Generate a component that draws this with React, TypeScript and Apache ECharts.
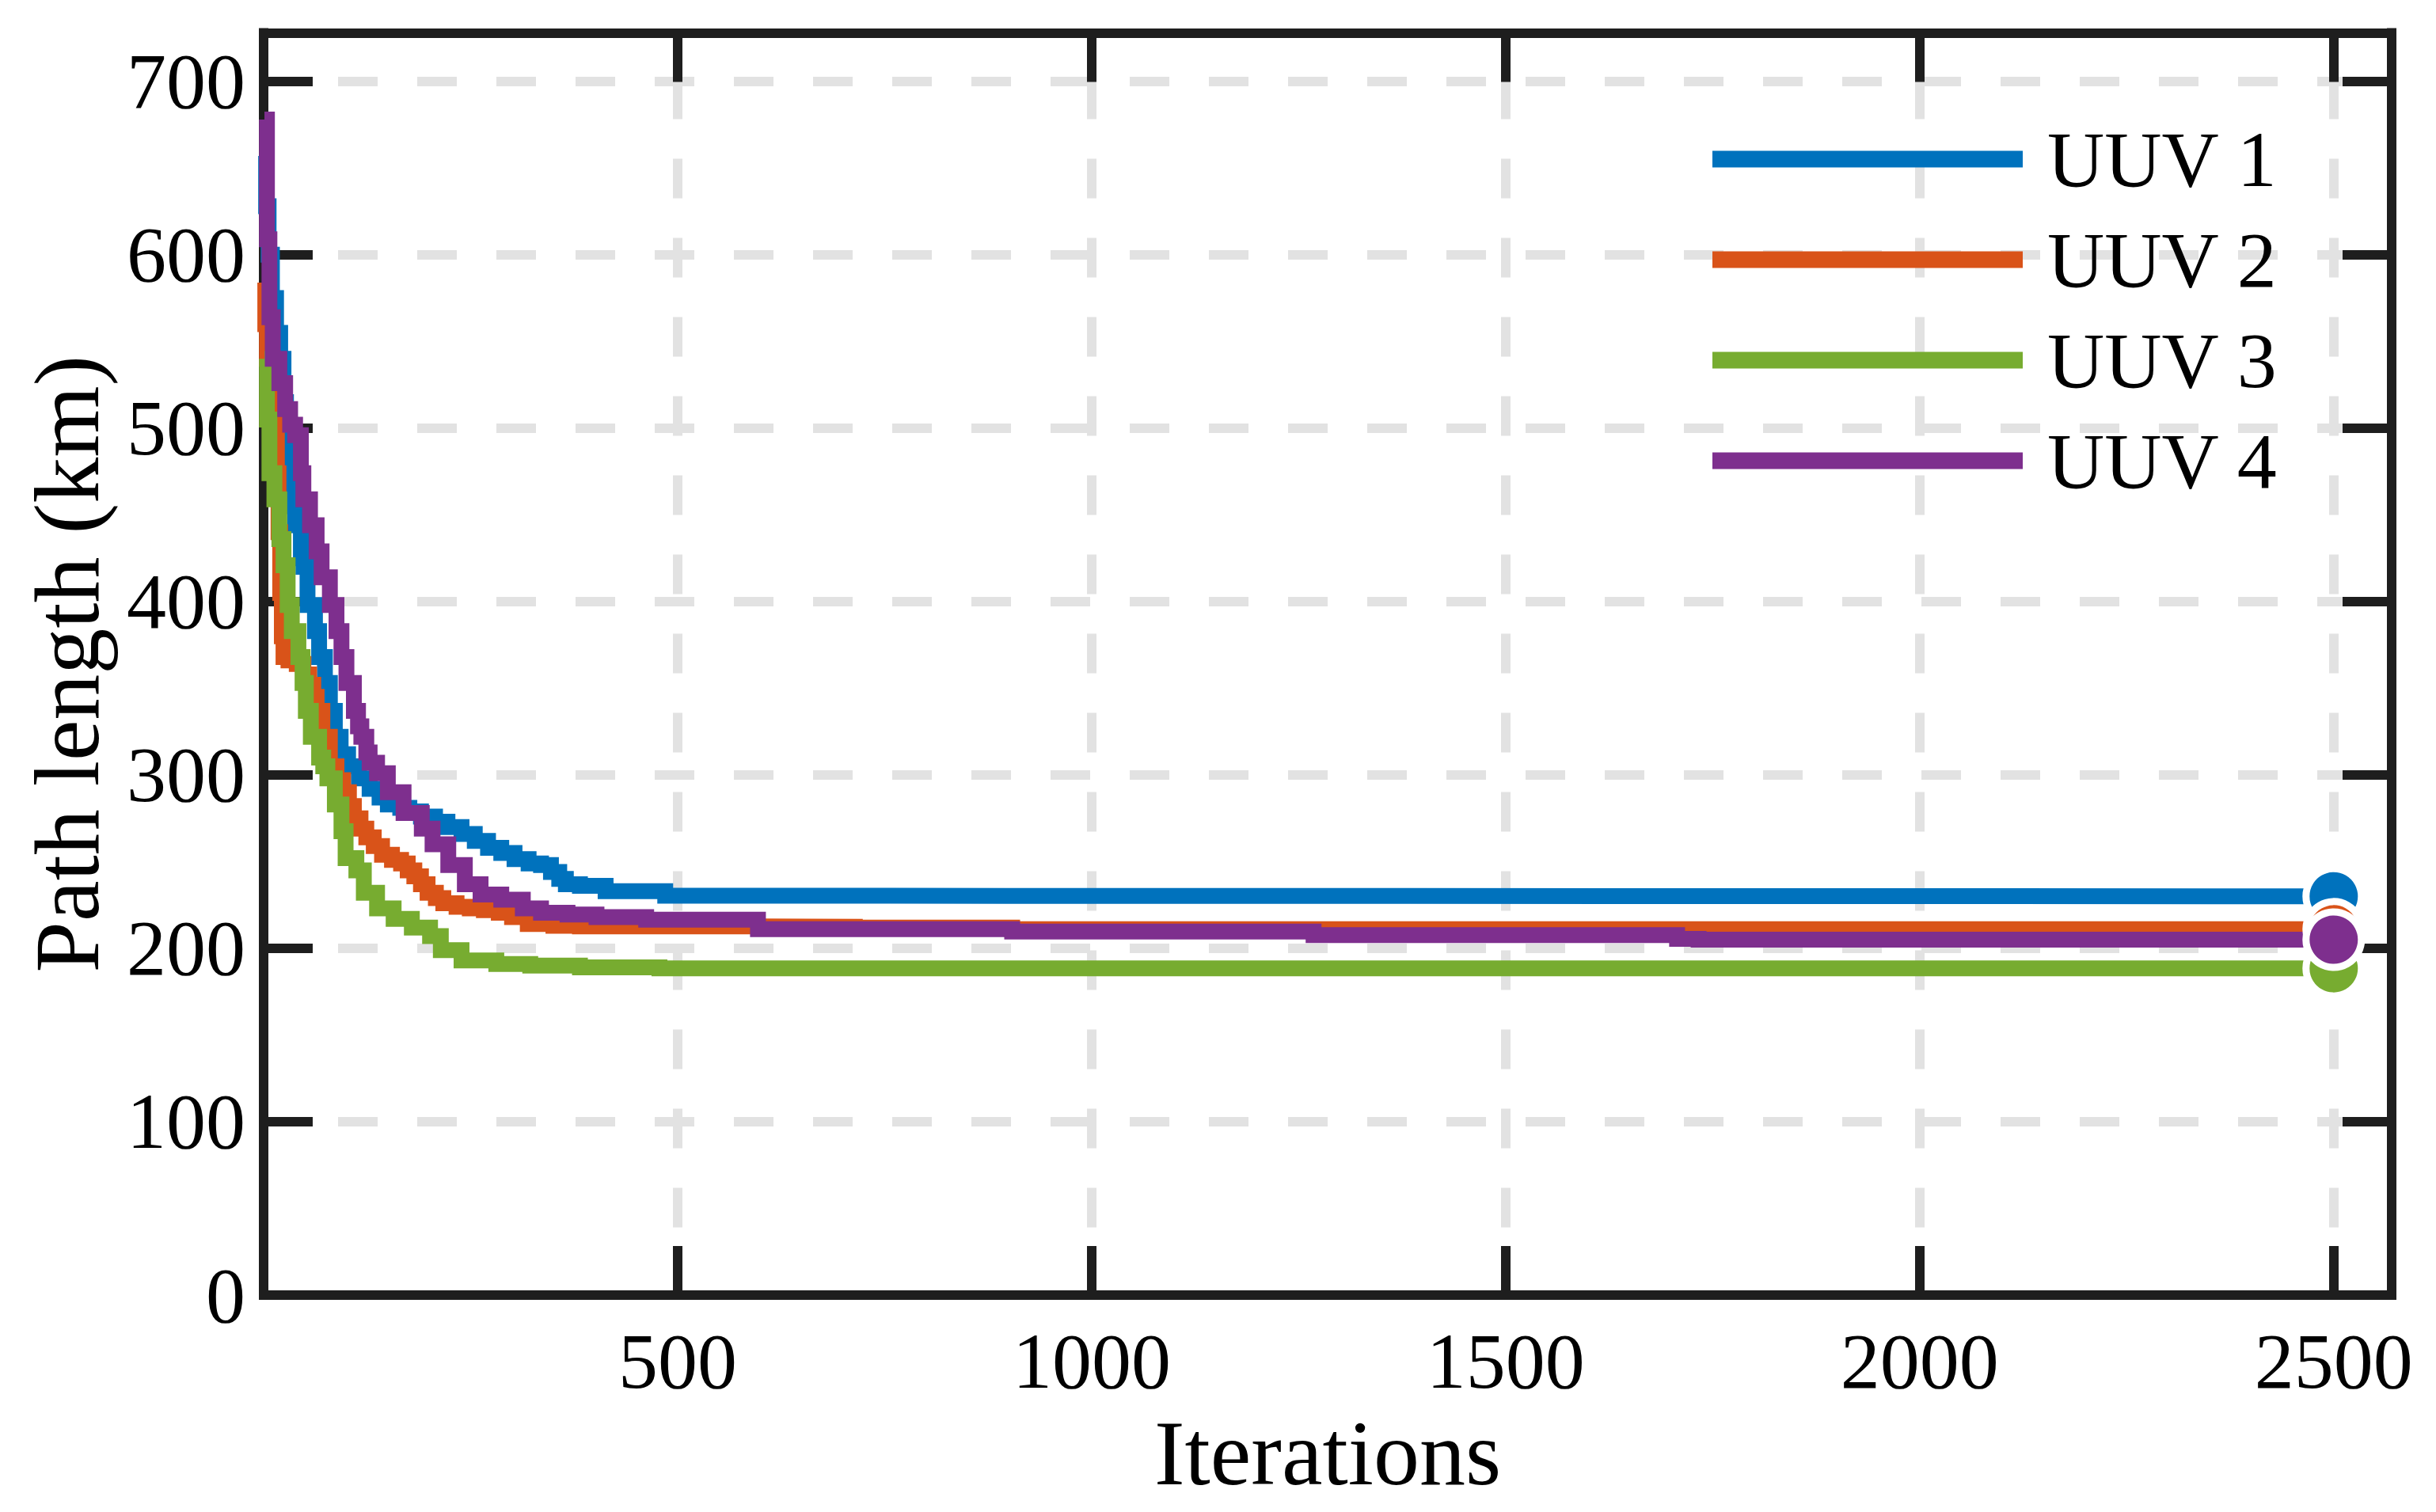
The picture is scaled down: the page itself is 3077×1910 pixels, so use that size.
import React, { useEffect, useRef } from "react";
import * as echarts from "echarts";

const SERIES_NAMES = ["UUV 1", "UUV 2", "UUV 3", "UUV 4"];
const COLORS = ["#0072BD", "#D95319", "#77AC30", "#7E2F8E"];

const X_MIN = 0;
const X_MAX = 2570;
const X_INTERVAL = 500;
const Y_MIN = 0;
const Y_MAX = 728;
const Y_INTERVAL = 100;

const X_TITLE = "Iterations";
const Y_TITLE = "Path length (km)";

// [iteration, best path length (km)]
const UUV1: [number, number][] = [
  [1, 657], [3, 628], [6, 600], [10, 575], [15, 555], [20, 540], [24, 515], [27, 505],
  [29, 470], [33, 455], [38, 444], [45, 425], [48, 420], [53, 398], [62, 383], [67, 368],
  [74, 353], [80, 337], [86, 322], [93, 312], [102, 305], [115, 298], [128, 292], [140, 287],
  [150, 283], [165, 281], [176, 279], [190, 276], [207, 273], [222, 270], [239, 266],
  [255, 262], [271, 258], [287, 255], [303, 251.5], [320, 249], [335, 248], [347, 244],
  [357, 240], [365, 237], [382, 236], [413, 233], [485, 230.3], [757, 230], [2500, 230],
];

const UUV2: [number, number][] = [
  [1, 584], [2, 560], [4, 540], [8, 520], [12, 505], [16, 474], [18, 440], [20, 405],
  [22, 380], [24, 368], [30, 366], [40, 364], [48, 358], [55, 352], [60, 345], [64, 337],
  [71, 322], [80, 305], [88, 297], [96, 290], [103, 282], [109, 275], [117, 269], [124, 264],
  [133, 259], [143, 254], [155, 251], [166, 249], [174, 245], [182, 241.5], [190, 237],
  [198, 232], [208, 229], [217, 226], [233, 224], [249, 223], [266, 222], [284, 220.5],
  [300, 218], [319, 214], [350, 213], [382, 212.6], [597, 212.4], [714, 212], [904, 211],
  [2500, 211],
];

const UUV3: [number, number][] = [
  [1, 540], [4, 505], [7, 474], [13, 459], [19, 436], [24, 421], [29, 398], [34, 383],
  [42, 368], [47, 353], [51, 337], [57, 322], [67, 310], [72, 305], [77, 298], [86, 283],
  [94, 267.5], [99, 252], [112, 245], [121, 232], [137, 223], [157, 217], [179, 212],
  [201, 207], [214, 199], [239, 193], [281, 191], [322, 190], [382, 189], [478, 188.5],
  [2500, 188.5],
];

const UUV4: [number, number][] = [
  [1, 678], [4, 609], [7, 564], [11, 540], [19, 526], [26, 511], [32, 502], [38, 496],
  [45, 474], [48, 459], [56, 444], [64, 429], [70, 414], [80, 398], [88, 383], [94, 368],
  [100, 353], [109, 337], [114, 328], [118, 322], [124, 313], [128, 307], [137, 301],
  [150, 290], [169, 278], [191, 269], [204, 260], [223, 248], [243, 237], [262, 231],
  [287, 228], [313, 223], [335, 220.5], [367, 219.5], [402, 218], [462, 216.5], [597, 211],
  [904, 209.7], [1268, 207.6], [1707, 205.5], [1733, 205], [2500, 205],
];

const SERIES_DATA = [UUV1, UUV2, UUV3, UUV4];

const FONT = "'Liberation Serif', 'Times New Roman', serif";
const FRAME = "#1e1e1e";
const GRID_GRAY = "#e2e2e2";

const plain = (v: number) => String(v);

export default function App() {
  const ref = useRef<HTMLDivElement | null>(null);

  useEffect(() => {
    document.body.style.margin = "0";
    document.body.style.overflow = "hidden";
    if (!ref.current) return;
    const chart = echarts.init(ref.current, undefined, { renderer: "svg" });

    const axisCommon = {
      type: "value" as const,
      axisLine: { show: true, onZero: false, lineStyle: { color: FRAME, width: 12, cap: "square" } },
      axisTick: { show: true, inside: true, length: 62, lineStyle: { color: FRAME, width: 12 } },
    };

    const lineSeries = SERIES_DATA.map((d, i) => ({
      name: SERIES_NAMES[i],
      type: "line",
      data: d,
      step: "end",
      symbol: "none",
      showSymbol: false,
      clip: false,
      color: COLORS[i],
      lineStyle: { color: COLORS[i], width: 20, join: "miter", cap: "butt" },
      z: 3,
    }));

    const endMarkers = {
      name: "end",
      type: "scatter",
      symbol: "circle",
      symbolSize: 70,
      clip: false,
      z: 4,
      itemStyle: { borderColor: "#ffffff", borderWidth: 9, opacity: 1 },
      data: SERIES_DATA.map((d, i) => ({
        value: d[d.length - 1],
        itemStyle: { color: COLORS[i] },
      })),
    };

    chart.setOption({
      animation: false,
      backgroundColor: "#ffffff",
      grid: { left: 333, right: 56, top: 41.5, bottom: 274, containLabel: false },
      legend: {
        data: SERIES_NAMES,
        orient: "vertical",
        left: 2163,
        top: 151,
        padding: 0,
        itemGap: 27,
        itemWidth: 392,
        itemHeight: 21,
        icon: "rect",
        selectedMode: false,
        itemStyle: { borderWidth: 0 },
        textStyle: {
          fontFamily: FONT,
          fontSize: 100,
          color: "#000",
          lineHeight: 100,
          padding: [0, 0, 0, 26],
        },
      },
      xAxis: [
        {
          ...axisCommon,
          position: "bottom",
          min: X_MIN,
          max: X_MAX,
          interval: X_INTERVAL,
          name: X_TITLE,
          nameLocation: "middle",
          nameGap: 142,
          nameTextStyle: { fontFamily: FONT, fontSize: 116, color: "#000" },
          axisLabel: {
            show: true,
            margin: 33,
            fontFamily: FONT,
            fontSize: 100,
            color: "#000",
            showMinLabel: false,
            showMaxLabel: false,
            formatter: plain,
          },
          splitLine: {
            show: true,
            lineStyle: { color: GRID_GRAY, width: 12, type: [50, 50], dashOffset: 41 },
          },
        },
        {
          ...axisCommon,
          position: "top",
          min: X_MIN,
          max: X_MAX,
          interval: X_INTERVAL,
          axisLabel: { show: false },
          splitLine: { show: false },
        },
      ],
      yAxis: [
        {
          ...axisCommon,
          position: "left",
          min: Y_MIN,
          max: Y_MAX,
          interval: Y_INTERVAL,
          name: Y_TITLE,
          nameLocation: "middle",
          nameGap: 190,
          nameTextStyle: { fontFamily: FONT, fontSize: 116, color: "#000" },
          axisLabel: {
            show: true,
            margin: 23,
            fontFamily: FONT,
            fontSize: 100,
            color: "#000",
            showMaxLabel: false,
            formatter: plain,
          },
          splitLine: {
            show: true,
            lineStyle: { color: GRID_GRAY, width: 12, type: [50, 50], dashOffset: 6 },
          },
        },
        {
          ...axisCommon,
          position: "right",
          min: Y_MIN,
          max: Y_MAX,
          interval: Y_INTERVAL,
          axisLabel: { show: false },
          splitLine: { show: false },
        },
      ],
      series: [...lineSeries, endMarkers],
    });

    return () => {
      chart.dispose();
    };
  }, []);

  return <div ref={ref} style={{ width: 3077, height: 1910 }} />;
}
